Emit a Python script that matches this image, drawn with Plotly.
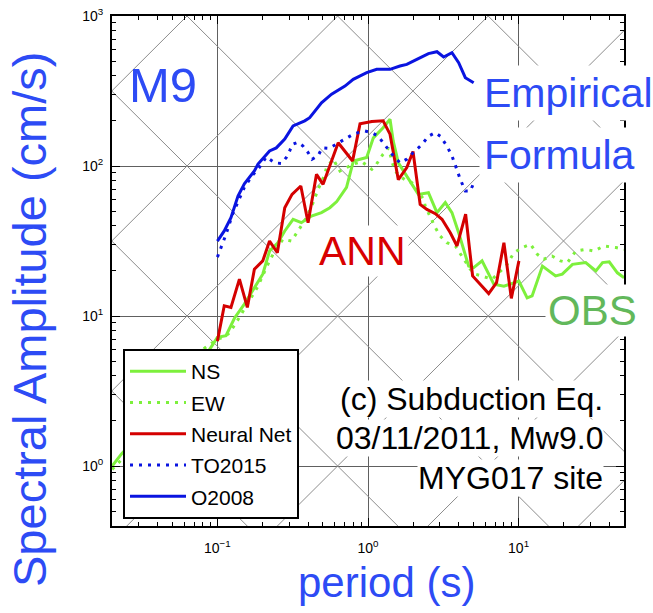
import numpy as np
import plotly.graph_objects as go

# ---------------- data ----------------
ns_period = [0.02, 0.023, 0.03, 0.045, 0.065, 0.086, 0.1, 0.114, 0.13, 0.151, 0.176, 0.20,
             0.222, 0.252, 0.28, 0.318, 0.361, 0.421, 0.491, 0.558, 0.62, 0.72, 0.80, 0.98,
             1.085, 1.26, 1.40, 1.47, 1.59, 1.72, 1.81, 2.16, 2.52, 2.87, 3.26, 3.61, 4.0,
             4.66, 5.03, 5.72, 6.85, 7.99, 10.05, 11.4, 12.3, 14.4, 17.6, 19.5, 22.8, 27.9,
             32.6, 36.1, 40.0, 45.3, 50.2]
ns_amp = [1.0, 1.2, 1.6, 2.6, 4.0, 5.7, 7.2, 7.4, 9.7, 12.0, 15.4, 19.0,
          27.1, 30.8, 36.9, 44.1, 41.9, 46.4, 48.9, 52.7, 58.0, 72.0, 108, 114,
          154, 180, 205, 147, 105, 92.6, 86.0, 64.7, 66.4, 48.9, 57.0, 48.9, 35.9,
          21.5, 21.0, 23.3, 16.3, 15.8, 17.1, 13.2, 13.6, 21.5, 18.5, 19.0, 22.1, 22.7,
          20.0, 22.7, 23.0, 19.4, 18.0]

ew_period = [0.02, 0.023, 0.03, 0.045, 0.065, 0.082, 0.1, 0.112, 0.12, 0.133, 0.144, 0.159,
             0.186, 0.211, 0.234, 0.272, 0.31, 0.343, 0.39, 0.432, 0.466, 0.517, 0.53, 0.587,
             0.651, 0.80, 0.908, 1.06, 1.14, 1.26, 1.37, 1.44, 1.51, 1.68, 1.81, 1.96, 2.34,
             2.4, 2.8, 3.02, 3.34, 3.8, 4.33, 4.78, 5.17, 5.72, 6.68, 7.39, 8.4, 9.3, 10.6,
             12.0, 13.3, 14.7, 16.7, 19.0, 21.1, 24.0, 27.9, 31.8, 36.9, 44.3, 50.2]
ew_amp = [0.95, 1.1, 1.4, 2.3, 3.6, 6.1, 7.0, 7.3, 7.7, 9.0, 10.3, 12.0,
          15.8, 21.0, 25.8, 32.5, 31.6, 36.9, 45.2, 57.0, 69.9, 88.0, 97.5, 111,
          92.6, 103, 107, 95.0, 103, 120, 132, 108, 92.6, 83.6, 79.4, 77.4, 60.0,
          54.0, 38.8, 34.1, 30.8, 29.3, 23.9, 20.5, 19.0, 18.5, 17.6, 19.4, 22.1, 26.4, 28.6,
          30.1, 25.8, 23.9, 25.1, 23.3, 22.7, 27.1, 27.8, 27.1, 29.3, 28.6, 27.8]

nn_period = [0.1, 0.111, 0.123, 0.14, 0.158, 0.176, 0.20, 0.222, 0.25, 0.28, 0.313, 0.358,
             0.40, 0.455, 0.503, 0.634, 0.79, 0.885, 1.06, 1.26, 1.40, 1.59, 1.81, 1.99,
             2.22, 2.46, 2.80, 3.10, 3.52, 3.90, 4.45, 4.95, 6.33, 7.14, 7.99, 8.95, 10.05]
nn_amp = [6.8, 11.7, 11.4, 17.6, 11.4, 20.5, 23.3, 31.6, 26.4, 52.7, 64.7, 73.6,
          41.9, 88.0, 75.5, 143, 108, 191, 198, 200, 163, 81.0, 97.5, 125,
          55.5, 51.4, 48.1, 44.1, 35.9, 29.3, 47.7, 18.5, 14.1, 16.7, 30.8, 13.1, 23.3]

to2015_period = [0.1, 0.109, 0.114, 0.126, 0.137, 0.151, 0.17, 0.19, 0.211, 0.24, 0.266, 0.287,
                 0.302, 0.313, 0.343, 0.37, 0.40, 0.425, 0.466, 0.496, 0.55, 0.72, 0.80, 0.862,
                 0.955, 1.06, 1.17, 1.26, 1.37, 1.47, 1.63, 1.81, 2.0, 2.28, 2.52, 2.80, 3.02,
                 3.34, 3.61, 3.8, 4.1, 4.43, 4.78, 5.03]
to2015_amp = [24.7, 30.8, 35.0, 47.6, 58.0, 72.0, 86.0, 98.0, 115, 105, 104, 114,
              126, 139, 144, 136, 123, 111, 117, 132, 131, 154, 163, 167,
              171, 167, 158, 143, 129, 117, 105, 111, 123, 139, 158, 167, 158,
              136, 117, 100, 81.5, 68.0, 68.0, 77.0]

o2008_period = [0.1, 0.111, 0.123, 0.137, 0.151, 0.176, 0.186, 0.222, 0.246, 0.28, 0.318, 0.38,
                0.41, 0.491, 0.573, 0.703, 0.798, 0.98, 1.143, 1.40, 1.63, 1.81, 2.11, 2.52,
                2.87, 3.18, 3.61, 4.0, 4.43, 5.03]
o2008_amp = [31.6, 36.9, 45.2, 63.0, 76.0, 92.6, 103, 126, 132, 151, 185, 200,
             210, 264, 301, 341, 378, 419, 441, 441, 464, 476, 514, 561,
             578, 533, 569, 488, 388, 359]

x_tick_vals = [0.1, 1, 10]
x_tick_text = ["10<sup>\u22121</sup>", "10<sup>0</sup>", "10<sup>1</sup>"]
y_tick_vals = [1, 10, 100, 1000]
y_tick_text = ["10<sup>0</sup>", "10<sup>1</sup>", "10<sup>2</sup>", "10<sup>3</sup>"]

# ---------------- style ----------------
W, H = 653, 613
L, R, T, B = 112, 624, 16, 526
XR = [-1.7, 1.7]
YR = [-0.4, 3.0]
SANS = "Liberation Sans, Arial, Helvetica, sans-serif"
GREEN = "#7df03c"
RED = "#d40000"
BLUE = "#0a14e0"
TXT_BLUE = "#2d4bf5"


def px(xp, yp):
    return (xp - L) / (R - L), (B - yp) / (B - T)


fig = go.Figure()

# tripartite reference lines (constant acceleration / displacement)
xe = np.array([10 ** XR[0], 10 ** XR[1]])
for k in range(-1, 6):
    fig.add_trace(go.Scatter(x=xe, y=xe * 10.0 ** k / (2 * np.pi), mode="lines",
                             line=dict(color="#8c8c8c", width=1), showlegend=False,
                             hoverinfo="skip"))
for k in range(-2, 4):
    fig.add_trace(go.Scatter(x=xe, y=2 * np.pi * 10.0 ** k / xe, mode="lines",
                             line=dict(color="#8c8c8c", width=1), showlegend=False,
                             hoverinfo="skip"))

series = [
    ("NS", ns_period, ns_amp, dict(color=GREEN, width=3)),
    ("EW", ew_period, ew_amp, dict(color=GREEN, width=3, dash="3px,6px")),
    ("Neural Net", nn_period, nn_amp, dict(color=RED, width=3)),
    ("TO2015", to2015_period, to2015_amp, dict(color=BLUE, width=3, dash="3px,6px")),
    ("O2008", o2008_period, o2008_amp, dict(color=BLUE, width=3)),
]
for name, xs, ys, ln in series:
    fig.add_trace(go.Scatter(x=xs, y=ys, mode="lines", name=name, line=ln,
                             legendgroup=name))

minor_x = [d * 10.0 ** e for e in range(-2, 2) for d in range(2, 10)
           if XR[0] <= np.log10(d * 10.0 ** e) <= XR[1]]
minor_y = [d * 10.0 ** e for e in range(-1, 3) for d in range(2, 10)
           if YR[0] <= np.log10(d * 10.0 ** e) <= YR[1]]

axis_common = dict(type="log", showline=True, linecolor="black", linewidth=2, mirror="allticks",
                   ticks="inside", ticklen=8, tickwidth=1, tickcolor="black", automargin=False,
                   showgrid=True, gridcolor="#606060", gridwidth=1, zeroline=False,
                   tickmode="array", tickfont=dict(family=SANS, size=14, color="black"))
fig.update_xaxes(range=XR, tickvals=x_tick_vals, ticktext=x_tick_text,
                 minor=dict(tickvals=minor_x, ticks="inside", ticklen=4, tickcolor="black",
                            showgrid=False),
                 ticklabelstandoff=8, **axis_common)
fig.update_yaxes(range=YR, tickvals=y_tick_vals, ticktext=y_tick_text,
                 minor=dict(tickvals=minor_y, ticks="inside", ticklen=4, tickcolor="black",
                            showgrid=False),
                 ticklabelstandoff=4, **axis_common)

ann = []


def add_text(text, xp, yp, size, color, xanchor="left", align="left", bg=True, angle=0,
             pad=0):
    x, y = px(xp, yp)
    ann.append(dict(text=text, x=x, y=y, xref="paper", yref="paper", xanchor=xanchor,
                    yanchor="middle", align=align, showarrow=False, textangle=angle,
                    font=dict(family=SANS, size=size, color=color),
                    bgcolor="white" if bg else "rgba(0,0,0,0)", borderpad=pad))


add_text("M9", 128, 85, 49, TXT_BLUE, bg=False)
add_text("Formula", 479, 155, 41, TXT_BLUE, pad=4)
add_text("Empirical", 479, 93, 41, TXT_BLUE, pad=4)
add_text("ANN", 316, 251, 41, "#d80000", pad=2)
add_text("OBS", 545, 310, 42, "#62b85b", pad=2)
add_text("MYG017 site", 604, 478, 32, "black", xanchor="right", align="right")
add_text("03/11/2011, Mw9.0", 604, 437.5, 32, "black", xanchor="right", align="right")
add_text("(c) Subduction Eq.", 604, 399, 32, "black", xanchor="right", align="right")
add_text("period (s)", 386, 582, 42, TXT_BLUE, xanchor="center", align="center", bg=False)
add_text("Spectral Amplitude (cm/s)", 29, 320, 47, TXT_BLUE, xanchor="center",
         align="center", bg=False, angle=-90)

lx, ly = px(123, 349)
fig.update_layout(
    width=W, height=H,
    margin=dict(l=L, r=W - R, t=T, b=H - B, pad=0, autoexpand=False),
    paper_bgcolor="white", plot_bgcolor="white",
    annotations=ann,
    showlegend=True,
    legend=dict(x=lx, y=ly, xanchor="left", yanchor="top", bgcolor="white",
                bordercolor="black", borderwidth=2, traceorder="grouped", tracegroupgap=1,
                font=dict(family=SANS, size=21, color="black"), itemwidth=56),
)

fig.write_html("out.html", config={"displayModeBar": False},
               post_script="document.body.style.margin='0px';")
